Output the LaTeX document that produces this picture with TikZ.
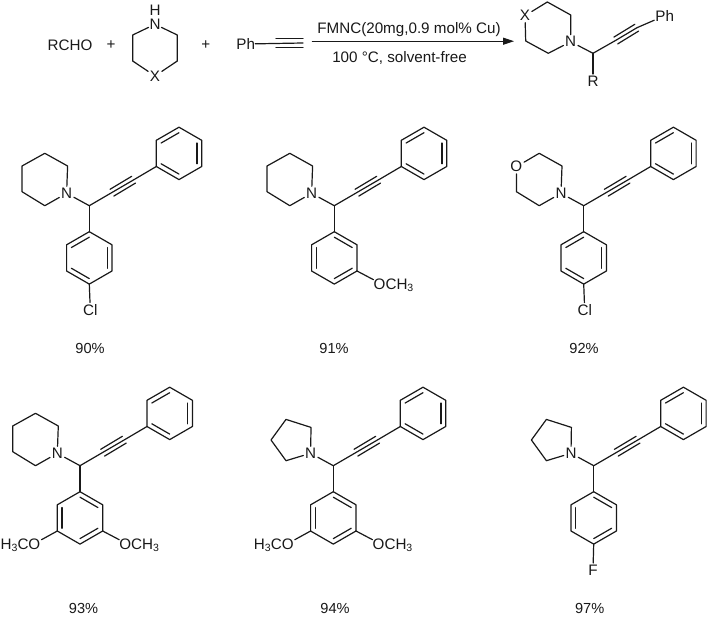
\documentclass[tikz,border=0pt]{standalone}
\usepackage{fontspec}
\setmainfont{Liberation Sans}
\usetikzlibrary{arrows.meta,calc}
\definecolor{ink}{gray}{0.1}
\tikzset{
  bond/.style={draw=ink,line width=1.2pt,line cap=round,line join=round},
  atom/.style={font=\fontsize{15.2}{15.2}\selectfont,text=ink,inner sep=1.6pt},
  txt/.style={font=\fontsize{15.2}{15.2}\selectfont,text=ink,inner sep=0pt},
  yield/.style={font=\fontsize{14.6}{14.6}\selectfont,text=ink,inner sep=0pt},
  grp/.style={font=\fontsize{15.2}{15.2}\selectfont,text=ink,inner sep=0pt},
}
\newcommand\subthree{\raisebox{-0.35ex}{\fontsize{10.5}{10.5}\selectfont 3}}
% hexagon coordinates: #1 name, (#2,#3) centre
\newcommand\hexa[3]{%
  \coordinate (#1c) at (#2,#3);
  \coordinate (#1v1) at ($(#2,#3)+(0,-26.2)$);
  \coordinate (#1v2) at ($(#2,#3)+(22.7,-13.1)$);
  \coordinate (#1v3) at ($(#2,#3)+(22.7,13.1)$);
  \coordinate (#1v4) at ($(#2,#3)+(0,26.2)$);
  \coordinate (#1v5) at ($(#2,#3)+(-22.7,13.1)$);
  \coordinate (#1v6) at ($(#2,#3)+(-22.7,-13.1)$);
  \draw[bond] (#1v1)--(#1v2)--(#1v3)--(#1v4)--(#1v5)--(#1v6)--cycle;
}
\newcommand\innerb[3]{\draw[bond] ($(#1c)!.79!(#1v#2)$)--($(#1c)!.79!(#1v#3)$);}
\newcommand\patA[1]{\innerb{#1}{6}{1}\innerb{#1}{2}{3}\innerb{#1}{4}{5}}
\newcommand\patB[1]{\innerb{#1}{1}{2}\innerb{#1}{3}{4}\innerb{#1}{5}{6}}
% molecule core: #1 prefix, (#2,#3) position of CH, #4 amine, #5 aryl pattern + substituents
\newcommand\mol[5]{%
  \begin{scope}[shift={(#2,#3)}]
    \coordinate (#1ch) at (0,0);
    \node[atom] (#1N) at (-22.7,-12.4) {N};
    \draw[bond] (#1N)--(#1ch);
    \hexa{#1ph}{89.7}{-52.3}\patA{#1ph}
    \coordinate (#1a) at (22.3,-13);
    \coordinate (#1b) at (44.6,-26);
    \draw[bond] (#1ch)--(#1a)--(#1b)--(#1phv5);
    \draw[bond] ($(#1a)+(-1.6,-3.4)$)--($(#1b)+(-2.2,-3.4)$);
    \draw[bond] ($(#1a)+(2.2,3.4)$)--($(#1b)+(1.6,3.4)$);
    \hexa{#1ar}{0}{52.2}
    \draw[bond] (#1ch)--(#1arv1);
    #4
    #5
  \end{scope}}
\newcommand\pip[1]{%
  \coordinate (#1r1) at (-21.7,-39.7);\coordinate (#1r2) at (-44.5,-52.4);
  \coordinate (#1r3) at (-67.3,-39.7);\coordinate (#1r4) at (-67.3,-14);
  \coordinate (#1r5) at (-44.5,0);
  \draw[bond] (#1N)--(#1r1)--(#1r2)--(#1r3)--(#1r4)--(#1r5)--(#1N);}
\newcommand\mor[1]{%
  \coordinate (#1r1) at (-21.7,-39.7);\coordinate (#1r2) at (-44.5,-52.4);
  \node[atom] (#1O) at (-67.3,-39) {O};
  \coordinate (#1r4) at (-67.3,-14);\coordinate (#1r5) at (-44.5,0);
  \draw[bond] (#1N)--(#1r1)--(#1r2)--(#1O)--(#1r4)--(#1r5)--(#1N);}
\newcommand\pyr[1]{%
  \coordinate (#1r1) at (-22.3,-38.3);\coordinate (#1r2) at (-47.3,-46.3);
  \coordinate (#1r3) at (-62.3,-25.7);\coordinate (#1r4) at (-47.3,-5);
  \draw[bond] (#1N)--(#1r1)--(#1r2)--(#1r3)--(#1r4)--(#1N);}
\newcommand\parasub[3]{% prefix, label, x-shift
  \node[atom] (#1X) at (#3,104.3) {#2};
  \draw[bond] (#1arv4)--(#1X);}
\newcommand\rightome[1]{%
  \node[grp,anchor=west] (#1OR) at (39.2,79.5) {OCH\subthree};
  \draw[bond] (#1arv3)--($(#1OR.west)+(0,-5.5)$);}
\newcommand\leftome[1]{%
  \node[grp,anchor=east] (#1OL) at (-39.5,79.5) {H\subthree CO};
  \draw[bond] (#1arv5)--($(#1OL.east)+(1,-5.5)$);}
\begin{document}
\begin{tikzpicture}[x=1pt,y=-1pt]
\useasboundingbox (0,0) rectangle (708,617);
\fill[white] (0,0) rectangle (708,617);
% --- reaction scheme
\node[txt] (rcho) at (70,45) {RCHO};
\node[txt] (plus1) at (111,45) {+};
\node[atom,inner sep=0.8pt] (pzN) at (155,24.3) {N};
\node[atom,inner sep=0pt] (pzH) at (155,10.7) {H};
\node[atom] (pzX) at (155,76) {X};
\coordinate (pz1) at (132.7,35);
\coordinate (pz2) at (132.7,61);
\coordinate (pz3) at (177.3,61);
\coordinate (pz4) at (177.3,35);
\draw[bond] (pzN)--(pz1)--(pz2)--(pzX)--(pz3)--(pz4)--(pzN);
\node[txt] (plus2) at (205.7,45) {+};
\node[atom,inner sep=0pt] (ph1) at (245.7,44) {Ph};
\coordinate (al1) at (276,43);
\coordinate (al2) at (303,43);
\draw[bond] (ph1)--(al2);
\draw[bond] (al1|-0,38.6)--(al2|-0,38.6);
\draw[bond] (al1|-0,47.6)--(al2|-0,47.6);
\coordinate (ar1) at (311.7,41.2);
\coordinate (ar2) at (514,41.2);
\draw[draw=ink,line width=1.1pt,-{Stealth[length=11pt,width=7pt,inset=0pt]},fill=ink] (ar1)--(ar2);
\node[txt] (cond1) at (409,30) {FMNC(20mg,0.9 mol\% Cu)};
\node[txt] (cond2) at (399.5,58) {100 °C, solvent-free};
% product
\node[atom] (pX) at (525,15.7) {X};
\node[atom] (pN) at (570.7,41.7) {N};
\coordinate (p1) at (547.3,2);
\coordinate (p2) at (570.7,15);
\coordinate (p3) at (548.3,53.3);
\coordinate (p4) at (525.7,41);
\coordinate (pch) at (593,53.3);
\node[atom] (pR) at (593,81) {R};
\node[atom,inner sep=1pt] (pPh) at (664.7,15.7) {Ph};
\coordinate (pa) at (615.5,40.5);
\coordinate (pb) at (637,27.7);
\draw[bond] (pX)--(p1)--(p2)--(pN)--(p3)--(p4)--(pX);
\draw[bond] (pN)--(pch)--(pa)--(pb)--(pPh);
\draw[bond] (pch)--(pR);
\draw[bond] ($(pa)+(-1.6,-3.4)$)--($(pb)+(-2.2,-3.4)$);
\draw[bond] ($(pa)+(2.2,3.4)$)--($(pb)+(1.6,3.4)$);
% --- products
\mol{a}{89.3}{205.7}{\pip{a}}{\patA{aar}\parasub{a}{Cl}{1}}
\mol{b}{334.3}{205.7}{\pip{b}}{\patB{bar}\rightome{b}}
\mol{c}{583.7}{205.7}{\mor{c}}{\patA{car}\parasub{c}{Cl}{1}}
\mol{d}{80}{465.7}{\pip{d}}{\patB{dar}\rightome{d}\leftome{d}}
\mol{e}{333.3}{465.7}{\pyr{e}}{\patB{ear}\rightome{e}\leftome{e}}
\mol{f}{593.7}{465.7}{\pyr{f}}{\patB{far}\parasub{f}{F}{-0.7}}
% --- yields
\node[yield] (y1) at (90,348) {90\%};
\node[yield] (y2) at (334,348) {91\%};
\node[yield] (y3) at (584,348) {92\%};
\node[yield] (y4) at (83.5,608) {93\%};
\node[yield] (y5) at (335,608.5) {94\%};
\node[yield] (y6) at (589.7,608.5) {97\%};
\end{tikzpicture}
\end{document}
